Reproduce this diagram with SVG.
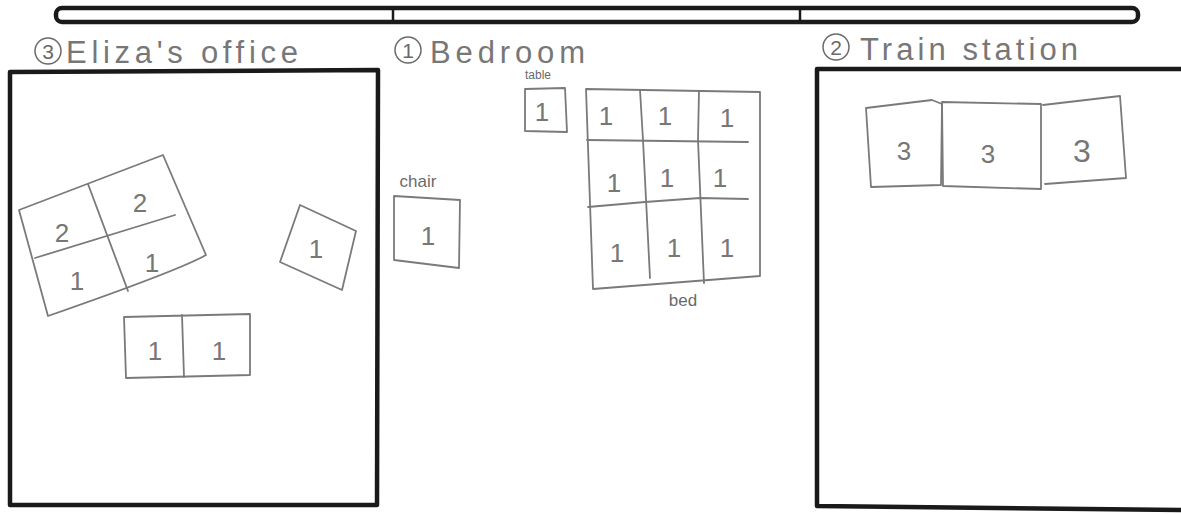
<svg xmlns="http://www.w3.org/2000/svg" width="1181" height="514" viewBox="0 0 1181 514">
<style>
.wall{fill:none;stroke:#1a1a1a;stroke-width:4.5;stroke-linecap:round;stroke-linejoin:round}
.bar{fill:none;stroke:#1a1a1a;stroke-width:4.5;stroke-linejoin:round}
.obj{fill:none;stroke:#7a7a7a;stroke-width:1.8;stroke-linejoin:round;stroke-linecap:round}
.ttl{font-family:"Liberation Sans",sans-serif;font-size:31px;fill:#777;}
.num{font-family:"Liberation Sans",sans-serif;font-size:26px;fill:#777;text-anchor:middle}
.lbl{font-family:"Liberation Sans",sans-serif;font-size:17px;fill:#6a6a6a;text-anchor:middle}
.circ{fill:none;stroke:#6a6a6a;stroke-width:1.5}
.cn{font-family:"Liberation Sans",sans-serif;font-size:21px;fill:#6a6a6a;text-anchor:middle}
</style>
<rect width="1181" height="514" fill="#ffffff"/>
<g id="timeline">
<rect class="bar" x="56" y="8" width="1082" height="14" rx="6"/>
<line x1="393" y1="8" x2="393" y2="22" stroke="#1a1a1a" stroke-width="2.5"/>
<line x1="800" y1="8" x2="800" y2="22" stroke="#1a1a1a" stroke-width="2.5"/>
</g>
<g id="office">
<circle class="circ" cx="48" cy="51" r="13"/>
<text class="cn" x="48" y="59">3</text>
<text class="ttl" x="66" y="63" textLength="232" lengthAdjust="spacing">Eliza's office</text>
<path class="wall" d="M10,72 L378,70 L377,505 L10,505 Z"/>
<g id="office-table4">
<path class="obj" d="M19,210 L163,155 L206,255 Q180,270 48,316 Z"/>
<path class="obj" d="M88,184 L128,291"/>
<path class="obj" d="M35,258 L175,215"/>
<text class="num" x="62" y="242">2</text>
<text class="num" x="140" y="212">2</text>
<text class="num" x="77" y="290">1</text>
<text class="num" x="152" y="272">1</text>
</g>
<g id="office-chair">
<path class="obj" d="M300,205 L356,231 L342,290 L280,262 Z"/>
<text class="num" x="316" y="258">1</text>
</g>
<g id="office-sofa">
<path class="obj" d="M124,317 L250,314 L250,375 L126,378 Z"/>
<path class="obj" d="M182,315 L184,377"/>
<text class="num" x="155" y="360">1</text>
<text class="num" x="219" y="360">1</text>
</g>
</g>
<g id="bedroom">
<circle class="circ" cx="408" cy="50" r="13"/>
<text class="cn" x="408" y="58">1</text>
<text class="ttl" x="430" y="63" textLength="155" lengthAdjust="spacing">Bedroom</text>
<g id="bed-table">
<text class="lbl" x="538" y="79" style="font-size:12px">table</text>
<path class="obj" d="M525,89 L565,88 L567,132 L525,131 Z"/>
<text class="num" x="542" y="121">1</text>
</g>
<g id="bed-chair">
<text class="lbl" x="418" y="187">chair</text>
<path class="obj" d="M394,196 L460,200 L459,268 L394,260 Z"/>
<text class="num" x="428" y="245">1</text>
</g>
<g id="bed-bed">
<path class="obj" d="M586,89 L760,92 L760,276 L593,289 Z"/>
<path class="obj" d="M640,90 L643,140 L650,278"/>
<path class="obj" d="M699,91 L698,140 L703,260 L704,283"/>
<path class="obj" d="M587,140 L748,142"/>
<path class="obj" d="M588,207 L645,202 L700,198 L748,199"/>
<text class="num" x="606" y="125">1</text>
<text class="num" x="665" y="125">1</text>
<text class="num" x="727" y="127">1</text>
<text class="num" x="614" y="192">1</text>
<text class="num" x="667" y="187">1</text>
<text class="num" x="720" y="187">1</text>
<text class="num" x="617" y="262">1</text>
<text class="num" x="674" y="257">1</text>
<text class="num" x="727" y="257">1</text>
<text class="lbl" x="683" y="306">bed</text>
</g>
</g>
<g id="station">
<circle class="circ" cx="836" cy="47" r="13"/>
<text class="cn" x="836" y="55">2</text>
<text class="ttl" x="860" y="60" textLength="218" lengthAdjust="spacing">Train station</text>
<path class="wall" d="M817,506 L817,69 L1181,69 M817,506 Q1000,508 1181,510"/>
<g id="station-benches">
<path class="obj" d="M866,108 L932,100 L942,104 L941,185 L871,187 Z"/>
<path class="obj" d="M942,102 L1041,104 L1041,189 L943,186 Z"/>
<path class="obj" d="M1043,105 L1120,96 L1126,178 L1045,184"/>
<text class="num" x="904" y="160">3</text>
<text class="num" x="988" y="163">3</text>
<text class="num" x="1082" y="162" style="font-size:32px">3</text>
</g>
</g>
</svg>
